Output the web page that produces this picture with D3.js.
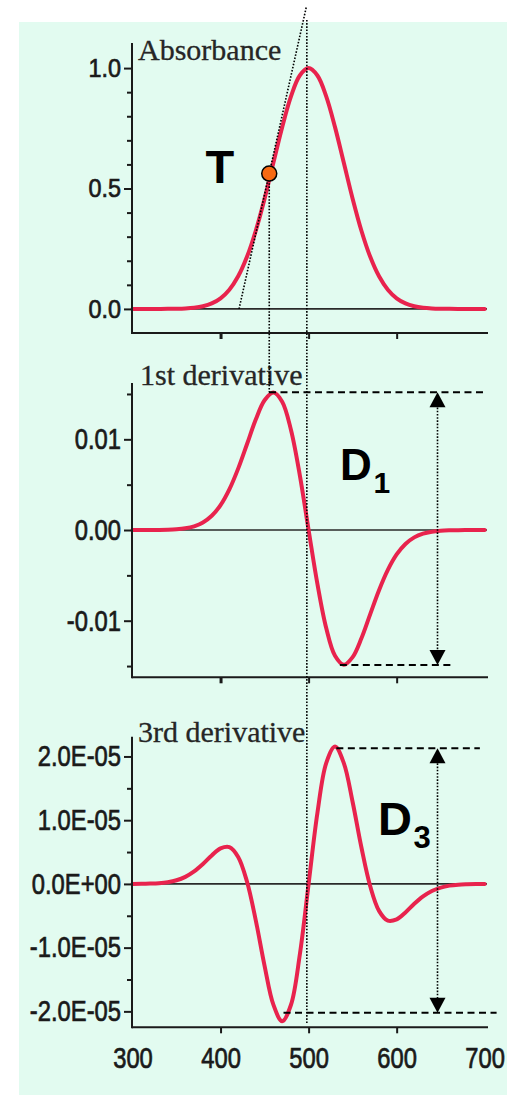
<!DOCTYPE html>
<html><head><meta charset="utf-8">
<script src="https://cdn.jsdelivr.net/npm/d3@7"></script>
<style>body{margin:0;background:#fff}svg{display:block}</style>
</head><body>
<svg id="c" width="507" height="1095"></svg>
<script>
// ---------- data ----------
const wavelengths = [300,310,320,330,340,350,360,370,380,390,400,410,420,430,440,450,460,470,480,490,500,
  510,520,530,540,550,560,570,580,590,600,610,620,630,640,650,660,670,680,690,700];
const absorbance = [0,0,0.00004,0.00012,0.00034,0.00088,0.0022,0.0051,0.0111,0.0228,0.0439,0.0796,0.1353,0.2163,0.3247,0.4578,0.6065,0.7548,0.8825,0.9692,1.0,
  0.9692,0.8825,0.7548,0.6065,0.4578,0.3247,0.2163,0.1353,0.0796,0.0439,0.0228,0.0111,0.0051,0.0022,0.00088,0.00034,0.00012,0.00004,0,0];
const firstDerivative = [0,0,0.000005,0.000013,0.000034,0.000083,0.00019,0.00041,0.00083,0.00157,0.00274,0.00448,0.00677,0.00946,0.01218,0.01431,0.01516,0.01415,0.01103,0.00606,0,
  -0.00594,-0.01081,-0.01387,-0.01486,-0.01402,-0.01194,-0.00927,-0.00663,-0.00439,-0.00269,-0.00154,-0.00081,-0.0004,-0.00019,-0.000081,-0.000033,-0.000013,-0.000005,0,0];
const thirdDerivative = [0,0.001e-5,0.005e-5,0.012e-5,0.027e-5,0.057e-5,0.111e-5,0.196e-5,0.312e-5,0.447e-5,0.557e-5,0.577e-5,0.423e-5,0.037e-5,-0.571e-5,-1.285e-5,-1.895e-5,-2.156e-5,-1.896e-5,-1.112e-5,0,
  1.112e-5,1.896e-5,2.156e-5,1.895e-5,1.285e-5,0.571e-5,-0.037e-5,-0.423e-5,-0.577e-5,-0.557e-5,-0.447e-5,-0.312e-5,-0.196e-5,-0.111e-5,-0.057e-5,-0.027e-5,-0.012e-5,-0.005e-5,-0.001e-5,0];

const xTickValues = [400,500,600];
const xLabelValues = [300,400,500,600,700];
const xLabels = ["300","400","500","600","700"];

const absTickValues = [0,0.5,1.0];
const absTickLabels = ["0.0","0.5","1.0"];
const absMinorTicks = [0.1,0.2,0.3,0.4,0.6,0.7,0.8,0.9];

const d1TickValues = [-0.01,0,0.01];
const d1TickLabels = ["-0.01","0.00","0.01"];
const d1MinorTicks = [-0.015,-0.005,0.005,0.015];

const d3TickValues = [-2e-5,-1e-5,0,1e-5,2e-5];
const d3TickLabels = ["-2.0E-05","-1.0E-05","0.0E+00","1.0E-05","2.0E-05"];
const d3MinorTicks = [-1.5e-5,-0.5e-5,0.5e-5,1.5e-5];

const panelTitles = ["Absorbance","1st derivative","3rd derivative"];

// annotations
const tangentLine = [[421,0],[497.5,1.255]];
const inflection = [455.3,0.562];
const peakWavelength = 498;
const d1Extremes = {max:0.01518, min:-0.01489};
const d1DashTop = [455,700];
const d1DashBottom = [535.5,666];
const d3Extremes = {max:2.13e-5, min:-2.02e-5};
const d3DashTop = [531.5,694.5];
const d3DashBottom = [471.5,713.5];
const arrowWavelength = 646.4;

// ---------- drawing ----------
const svg = d3.select("#c");
svg.append("rect").attr("x",19).attr("y",22).attr("width",488).attr("height",1073).attr("fill","#e2fbf0");

const x = d3.scaleLinear().domain([300,700]).range([132.5,484.7]);
const AXIS_X = 132, AXIS_END = 488;
const RED = "#e8234d";
const INK = "#1a1a1a";

const panels = [
  {y: d3.scaleLinear().domain([-0.1,1.1]).range([333,44]), top:43, bottom:333, data:absorbance,
   major:absTickValues, labels:absTickLabels, minor:absMinorTicks, title:panelTitles[0], titleX:138, titleY:60, fs:26, sx:0.9, bold400:true},
  {y: d3.scaleLinear().domain([-0.01624,0.01621]).range([677.3,383]), top:383, bottom:677.3, data:firstDerivative,
   major:d1TickValues, labels:d1TickLabels, minor:d1MinorTicks, title:panelTitles[1], titleX:140, titleY:385, fs:29, sx:0.82, bold400:true},
  {y: d3.scaleLinear().domain([-2.25e-5,2.31e-5]).range([1027.3,736.7]), top:736.7, bottom:1027.3, data:thirdDerivative,
   major:d3TickValues, labels:d3TickLabels, minor:d3MinorTicks, title:panelTitles[2], titleX:138, titleY:741.7, fs:29, sx:0.82, bold400:false}
];

panels.forEach((p,pi) => {
  const g = svg.append("g");
  // zero line
  g.append("line").attr("x1",AXIS_X).attr("x2",AXIS_END-1).attr("y1",p.y(0)).attr("y2",p.y(0))
    .attr("stroke","#2a2a2a").attr("stroke-width",1.6);
  // curve
  const line = d3.line().x((d,i)=>x(wavelengths[i])).y(d=>p.y(d)).curve(d3.curveCatmullRom.alpha(0.5));
  g.append("path").datum(p.data).attr("d",line).attr("fill","none").attr("stroke",RED)
    .attr("stroke-width",4).attr("stroke-linejoin","round").attr("stroke-linecap","round");
  // y axis major
  const ya = g.append("g").attr("transform",`translate(${AXIS_X},0)`)
    .call(d3.axisLeft(p.y).tickValues(p.major).tickSize(8).tickSizeOuter(0).tickFormat((d,i)=>p.labels[i]));
  ya.select(".domain").remove();
  ya.selectAll(".tick line").attr("stroke",INK).attr("stroke-width",2);
  ya.selectAll(".tick text").attr("font-family","'Liberation Sans', Arial, sans-serif").attr("font-size",p.fs)
    .attr("fill",INK).attr("stroke",INK).attr("stroke-width",0.7)
    .attr("x",-11/p.sx).attr("transform",`scale(${p.sx},1)`);
  const ym = g.append("g").attr("transform",`translate(${AXIS_X},0)`)
    .call(d3.axisLeft(p.y).tickValues(p.minor).tickSize(5).tickSizeOuter(0).tickFormat(""));
  ym.select(".domain").remove();
  ym.selectAll(".tick line").attr("stroke",INK).attr("stroke-width",2);
  // x axis ticks
  const xa = g.append("g").attr("transform",`translate(0,${p.bottom})`)
    .call(d3.axisBottom(x).tickValues(pi===2?xLabelValues:xTickValues).tickSize(6).tickSizeOuter(0)
      .tickFormat(pi===2?((d,i)=>xLabels[i]):""));
  xa.select(".domain").remove();
  xa.selectAll(".tick line").attr("stroke",INK).attr("stroke-width",d=> (p.bold400 && d===400)?3:2)
    .attr("display",d=>(d===300||d===700)?"none":null);
  if (pi===2) {
    xa.selectAll(".tick text").attr("font-family","'Liberation Sans', Arial, sans-serif").attr("font-size",29)
      .attr("fill",INK).attr("stroke",INK).attr("stroke-width",0.7)
      .attr("y",41).attr("dy",null).attr("transform","scale(0.82,1)");
  }
  // axis lines
  g.append("line").attr("x1",AXIS_X).attr("x2",AXIS_X).attr("y1",p.top).attr("y2",p.bottom+1)
    .attr("stroke",INK).attr("stroke-width",2);
  g.append("line").attr("x1",AXIS_X).attr("x2",AXIS_END).attr("y1",p.bottom).attr("y2",p.bottom)
    .attr("stroke",INK).attr("stroke-width",2);
  // title
  g.append("text").attr("x",p.titleX).attr("y",p.titleY).text(p.title)
    .attr("font-family","'Liberation Serif', 'Times New Roman', serif").attr("font-size",30)
    .attr("fill","#262626").attr("stroke","#262626").attr("stroke-width",0.3);
});

const [yA,y1,y3] = panels.map(p=>p.y);
const ann = svg.append("g");
const dotted = sel => sel.attr("stroke","#000").attr("stroke-width",1.6).attr("stroke-dasharray","1.6,1.6").attr("fill","none");
const dashed = sel => sel.attr("stroke","#000").attr("stroke-width",2).attr("stroke-dasharray","7,4.5").attr("fill","none");

// tangent
ann.append("line").attr("x1",x(tangentLine[0][0])).attr("y1",yA(tangentLine[0][1]))
  .attr("x2",x(tangentLine[1][0])).attr("y2",yA(tangentLine[1][1])).call(dotted);
// vertical through peak
ann.append("line").attr("x1",x(peakWavelength)).attr("x2",x(peakWavelength))
  .attr("y1",yA(1.2)).attr("y2",y3(-2.2e-5)).call(dotted);
// vertical from inflection point to 1st derivative max
ann.append("line").attr("x1",x(inflection[0])).attr("x2",x(inflection[0]))
  .attr("y1",yA(inflection[1])).attr("y2",y1(d1Extremes.max)).call(dotted);

// dashed levels
ann.append("line").attr("x1",x(d1DashTop[0])).attr("x2",x(d1DashTop[1])).attr("y1",y1(d1Extremes.max)).attr("y2",y1(d1Extremes.max)).call(dashed);
ann.append("line").attr("x1",x(d1DashBottom[0])).attr("x2",x(d1DashBottom[1])).attr("y1",y1(d1Extremes.min)).attr("y2",y1(d1Extremes.min)).call(dashed);
ann.append("line").attr("x1",x(d3DashTop[0])).attr("x2",x(d3DashTop[1])).attr("y1",y3(d3Extremes.max)).attr("y2",y3(d3Extremes.max)).call(dashed);
ann.append("line").attr("x1",x(d3DashBottom[0])).attr("x2",x(d3DashBottom[1])).attr("y1",y3(d3Extremes.min)).attr("y2",y3(d3Extremes.min)).call(dashed);

// double arrows
function dblArrow(yTop, yBot){
  const ax = x(arrowWavelength);
  ann.append("line").attr("x1",ax).attr("x2",ax).attr("y1",yTop+12).attr("y2",yBot-12).call(dotted);
  ann.append("polygon").attr("points",`${ax},${yTop} ${ax-8},${yTop+15} ${ax+8},${yTop+15}`).attr("fill","#000");
  ann.append("polygon").attr("points",`${ax},${yBot} ${ax-8},${yBot-15} ${ax+8},${yBot-15}`).attr("fill","#000");
}
dblArrow(y1(d1Extremes.max), y1(d1Extremes.min));
dblArrow(y3(d3Extremes.max), y3(d3Extremes.min));

// inflection dot
ann.append("circle").attr("cx",x(inflection[0])).attr("cy",yA(inflection[1])).attr("r",7.5)
  .attr("fill","#f76a12").attr("stroke","#000").attr("stroke-width",1.5);

// labels
const bold = "'Liberation Sans', Arial, sans-serif";
ann.append("text").attr("x",205.5).attr("y",182.7).text("T").attr("font-family",bold).attr("font-weight","bold").attr("font-size",47).attr("fill","#000");
ann.append("text").attr("x",340).attr("y",480).text("D").attr("font-family",bold).attr("font-weight","bold").attr("font-size",44).attr("fill","#000");
ann.append("text").attr("x",373.5).attr("y",493.3).text("1").attr("font-family",bold).attr("font-weight","bold").attr("font-size",30).attr("fill","#000");
ann.append("text").attr("x",378).attr("y",834.5).text("D").attr("font-family",bold).attr("font-weight","bold").attr("font-size",47).attr("fill","#000");
ann.append("text").attr("x",413.5).attr("y",847.5).text("3").attr("font-family",bold).attr("font-weight","bold").attr("font-size",31).attr("fill","#000");
</script>
</body></html>
